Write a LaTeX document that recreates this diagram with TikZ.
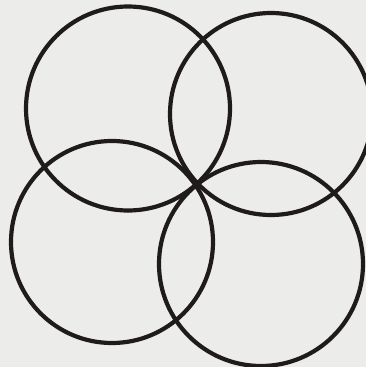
\documentclass[tikz,border=0pt]{standalone}
\usepackage{tikz}
\usetikzlibrary{positioning}
\definecolor{paper}{HTML}{ECECEB}
\definecolor{ink}{HTML}{1F1B1B}

\begin{document}
\begin{tikzpicture}[x=1pt,y=-1pt,ring/.style={draw=ink,line width=4.2pt,circle,inner sep=0pt,minimum size=#1}]
\clip (0,0) rectangle (366,367);
\fill[paper] (0,0) rectangle (366,367);
\node[ring=204pt] (nw) at (128,108.5) {};
\node[ring=202pt] (ne) at (271,114) {};
\node[ring=202pt] (sw) at (112,242) {};
\node[ring=204pt] (se) at (261,264) {};
\end{tikzpicture}
\end{document}
